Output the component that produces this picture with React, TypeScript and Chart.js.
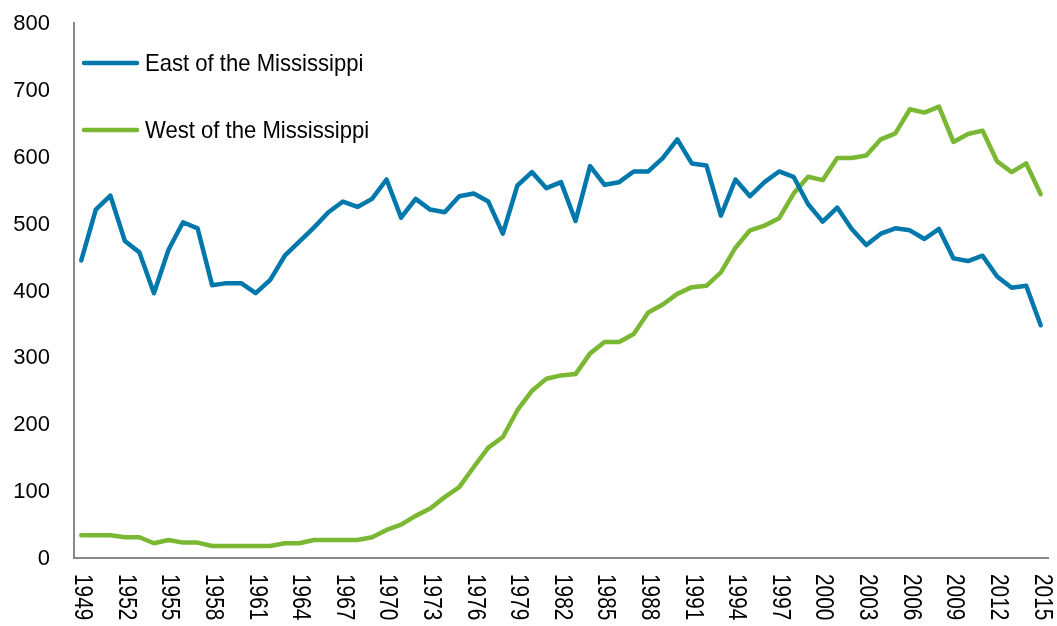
import React, { useEffect, useRef } from "react";
import { Chart, registerables } from "chart.js";

Chart.register(...registerables);

const years = [
  "1949", "1950", "1951", "1952", "1953", "1954", "1955", "1956", "1957", "1958",
  "1959", "1960", "1961", "1962", "1963", "1964", "1965", "1966", "1967", "1968",
  "1969", "1970", "1971", "1972", "1973", "1974", "1975", "1976", "1977", "1978",
  "1979", "1980", "1981", "1982", "1983", "1984", "1985", "1986", "1987", "1988",
  "1989", "1990", "1991", "1992", "1993", "1994", "1995", "1996", "1997", "1998",
  "1999", "2000", "2001", "2002", "2003", "2004", "2005", "2006", "2007", "2008",
  "2009", "2010", "2011", "2012", "2013", "2014", "2015",
];

const eastValues = [
  445, 521, 542, 474, 457, 396, 461, 502, 493, 408,
  411, 411, 396, 416, 452, 473, 494, 517, 533, 525,
  537, 566, 509, 537, 521, 517, 541, 545, 533, 485,
  557, 577, 553, 562, 504, 586, 558, 562, 578, 578,
  598, 626, 590, 587, 512, 566, 541, 562, 578, 570,
  529, 503, 524, 492, 468, 485, 493, 490, 477, 492,
  448, 444, 452, 421, 404, 407, 348,
];

const westValues = [
  34, 34, 34, 31, 31, 22, 27, 23, 23, 18,
  18, 18, 18, 18, 22, 22, 27, 27, 27, 27,
  31, 42, 50, 63, 74, 91, 106, 136, 165, 181,
  221, 250, 268, 273, 275, 306, 323, 323, 335, 367,
  379, 395, 405, 407, 427, 464, 490, 497, 508, 545,
  570, 565, 598, 598, 602, 626, 635, 671, 666, 675,
  622, 634, 639, 593, 577, 590, 544,
];

const xTickLabels = [
  "1949", "1952", "1955", "1958", "1961", "1964", "1967", "1970", "1973", "1976",
  "1979", "1982", "1985", "1988", "1991", "1994", "1997", "2000", "2003", "2006",
  "2009", "2012", "2015",
];

const yTickValues = [0, 100, 200, 300, 400, 500, 600, 700, 800];

const seriesNames = ["East of the Mississippi", "West of the Mississippi"];
const seriesColors = ["#0078AB", "#7AB833"];

const FONT = '"Liberation Sans", Arial, sans-serif';

const customDraw = {
  id: "customDraw",
  afterDraw(chart: any) {
    const ctx = chart.ctx;
    const xs = chart.scales.x;
    const ys = chart.scales.y;
    const area = chart.chartArea;
    ctx.save();
    ctx.fillStyle = "#000";
    // y tick labels
    ctx.font = `22px ${FONT}`;
    ctx.textAlign = "right";
    ctx.textBaseline = "middle";
    yTickValues.forEach((v) => {
      ctx.fillText(String(v), area.left - 24, ys.getPixelForValue(v) + 1);
    });
    // x tick labels rotated clockwise
    ctx.font = `26px ${FONT}`;
    ctx.textAlign = "left";
    ctx.textBaseline = "middle";
    years.forEach((yr, i) => {
      if (!xTickLabels.includes(yr)) return;
      const px = xs.getPixelForValue(i);
      ctx.save();
      ctx.translate(px + 1, area.bottom + 16);
      ctx.rotate(Math.PI / 2);
      ctx.scale(0.8, 1);
      ctx.fillText(yr, 0, 0);
      ctx.restore();
    });
    // legend
    const legendX = area.left + 10;
    const legendYs = [area.top + 40, area.top + 107];
    seriesNames.forEach((name, k) => {
      const ly = legendYs[k];
      ctx.strokeStyle = seriesColors[k];
      ctx.lineWidth = 4.5;
      ctx.lineCap = "round";
      ctx.beginPath();
      ctx.moveTo(legendX, ly);
      ctx.lineTo(legendX + 53, ly);
      ctx.stroke();
      ctx.save();
      ctx.translate(legendX + 61, ly + 1);
      ctx.scale(0.92, 1);
      ctx.font = `24px ${FONT}`;
      ctx.fillStyle = "#000";
      ctx.textAlign = "left";
      ctx.textBaseline = "middle";
      ctx.fillText(name, 0, 0);
      ctx.restore();
    });
    ctx.restore();
  },
};

export default function App() {
  const ref = useRef<HTMLCanvasElement>(null);

  useEffect(() => {
    if (!ref.current) return;
    const chart = new Chart(ref.current, {
      type: "line",
      data: {
        labels: years,
        datasets: [
          {
            label: seriesNames[0],
            data: eastValues,
            borderColor: seriesColors[0],
            backgroundColor: seriesColors[0],
            borderWidth: 4.5,
            pointRadius: 0,
            borderJoinStyle: "round",
            borderCapStyle: "round",
            tension: 0,
          },
          {
            label: seriesNames[1],
            data: westValues,
            borderColor: seriesColors[1],
            backgroundColor: seriesColors[1],
            borderWidth: 4.5,
            pointRadius: 0,
            borderJoinStyle: "round",
            borderCapStyle: "round",
            tension: 0,
          },
        ],
      },
      options: {
        animation: false,
        responsive: false,
        devicePixelRatio: 1,
        layout: { padding: { top: 23, right: 9, left: 0, bottom: 0 } },
        plugins: {
          legend: { display: false },
          tooltip: { enabled: false },
        },
        scales: {
          x: {
            type: "category",
            offset: true,
            grid: { display: false, drawTicks: false },
            border: { display: true, color: "#898989", width: 2 },
            ticks: { display: false },
            afterFit: (scale: any) => {
              scale.height = 68;
            },
          },
          y: {
            min: 0,
            max: 800,
            grid: { display: false, drawTicks: false },
            border: { display: true, color: "#898989", width: 2 },
            ticks: { display: false, stepSize: 100 },
            afterFit: (scale: any) => {
              scale.width = 74;
            },
          },
        },
      },
      plugins: [customDraw],
    } as any);
    return () => chart.destroy();
  }, []);

  return (
    <div style={{ position: "fixed", left: 0, top: 0, width: 1057, height: 626, background: "#fff" }}>
      <canvas ref={ref} width={1057} height={626} />
    </div>
  );
}
